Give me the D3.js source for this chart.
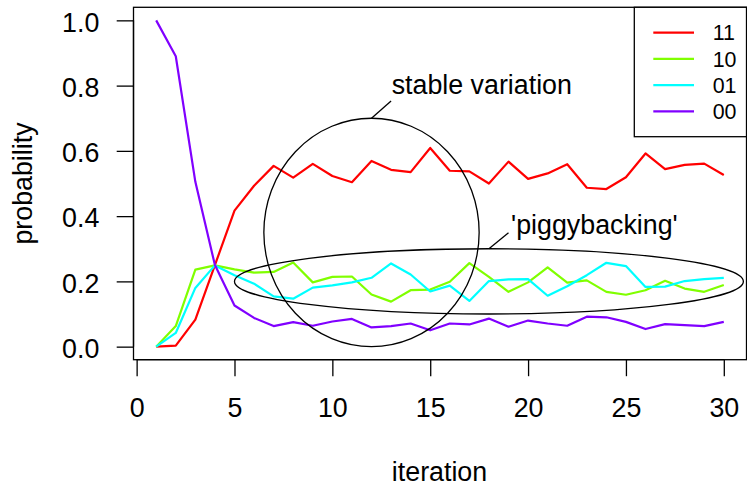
<!DOCTYPE html>
<html>
<head>
<meta charset="utf-8">
<script src="https://cdn.jsdelivr.net/npm/d3@7"></script>
<style>
  body { margin: 0; background: #fff; }
  svg text { font-family: "Liberation Sans", Arial, Helvetica, sans-serif; fill: #000; }
</style>
</head>
<body>
<svg id="chart" width="747" height="487"></svg>
<script>
// iterations 1..30
const iteration = [1, 2, 3, 4, 5, 6, 7, 8, 9, 10, 11, 12, 13, 14, 15,
                   16, 17, 18, 19, 20, 21, 22, 23, 24, 25, 26, 27, 28, 29, 30];

// probability of each state
const p11 = [0, 0.003, 0.083, 0.25, 0.417, 0.493, 0.554, 0.518, 0.560, 0.523, 0.504, 0.569, 0.542, 0.535, 0.609,
             0.539, 0.537, 0.500, 0.567, 0.514, 0.531, 0.559, 0.487, 0.483, 0.519, 0.592, 0.544, 0.557, 0.561, 0.526];
const p10 = [0, 0.063, 0.236, 0.249, 0.237, 0.227, 0.229, 0.258, 0.197, 0.214, 0.215, 0.160, 0.138, 0.173, 0.175,
             0.199, 0.256, 0.214, 0.168, 0.197, 0.243, 0.196, 0.203, 0.168, 0.159, 0.173, 0.202, 0.178, 0.168, 0.189];
const p01 = [0, 0.042, 0.180, 0.249, 0.219, 0.193, 0.154, 0.147, 0.181, 0.188, 0.197, 0.211, 0.255, 0.221, 0.169,
             0.187, 0.140, 0.201, 0.206, 0.207, 0.156, 0.185, 0.219, 0.257, 0.247, 0.183, 0.184, 0.201, 0.207, 0.211];
const p00 = [1.0, 0.890, 0.505, 0.25, 0.126, 0.088, 0.063, 0.075, 0.064, 0.077, 0.085, 0.059, 0.063, 0.071, 0.050,
             0.071, 0.068, 0.086, 0.061, 0.080, 0.071, 0.064, 0.092, 0.090, 0.076, 0.054, 0.069, 0.066, 0.063, 0.076];

const seriesNames = ['11', '10', '01', '00'];
const seriesColors = ['#FF0000', '#80FF00', '#00FFFF', '#8000FF'];

const xTicks = [0, 5, 10, 15, 20, 25, 30];
const yTicks = [0, 0.2, 0.4, 0.6, 0.8, 1.0];

// annotations: [cx, cy, rx, ry] in data units
const stableCircle = [12, 0.35, 5.5, 0.35];
const piggyEllipse = [18, 0.2, 13, 0.1];

const svg = d3.select('#chart');

// plot region (R style, 4% padding on each axis)
const plotLeft = 133.5, plotRight = 746.5, plotTop = 7.3, plotBottom = 359.7;

const x = d3.scaleLinear().domain([-0.16, 31.16]).range([plotLeft, plotRight]);
const y = d3.scaleLinear().domain([-0.04, 1.04]).range([plotBottom, plotTop]);

const fontSize = 26.8;

// box
svg.append('rect')
  .attr('x', plotLeft).attr('y', plotTop)
  .attr('width', plotRight - plotLeft).attr('height', plotBottom - plotTop)
  .attr('fill', 'none').attr('stroke', '#000').attr('stroke-width', 1.3);

// x axis
const xAxis = svg.append('g').attr('transform', `translate(0,${plotBottom})`)
  .call(d3.axisBottom(x).tickValues(xTicks).tickSize(16.5).tickPadding(22).tickFormat(d3.format('d')));
xAxis.select('.domain').attr('d', `M${x(0)},0H${x(30)}`).attr('stroke-width', 1.3);
xAxis.selectAll('.tick line').attr('stroke-width', 1.3);
xAxis.selectAll('.tick text').attr('font-size', fontSize).attr('font-family', null);

// y axis
const yAxis = svg.append('g').attr('transform', `translate(${plotLeft},0)`)
  .call(d3.axisLeft(y).tickValues(yTicks).tickSize(16.8).tickPadding(17.4).tickFormat(d3.format('.1f')));
yAxis.select('.domain').attr('d', `M0,${y(0)}V${y(1)}`).attr('stroke-width', 1.3);
yAxis.selectAll('.tick line').attr('stroke-width', 1.3);
yAxis.selectAll('.tick text').attr('font-size', fontSize).attr('font-family', null).attr('dy', '0.4em');

// axis titles
svg.append('text')
  .attr('x', (plotLeft + plotRight) / 2 - 0.5).attr('y', 481)
  .attr('text-anchor', 'middle').attr('font-size', fontSize)
  .text('iteration');

svg.append('text')
  .attr('transform', `translate(32,${(plotTop + plotBottom) / 2}) rotate(-90)`)
  .attr('text-anchor', 'middle').attr('font-size', fontSize)
  .text('probability');

// series lines
const allSeries = [p11, p10, p01, p00];
const line = d3.line()
  .x((d, i) => x(iteration[i]))
  .y(d => y(d));

allSeries.forEach((vals, k) => {
  svg.append('path')
    .datum(vals)
    .attr('d', line)
    .attr('fill', 'none')
    .attr('stroke', seriesColors[k])
    .attr('stroke-width', 2.2)
    .attr('stroke-linejoin', 'round');
});

// annotations
function drawEllipse(e) {
  svg.append('ellipse')
    .attr('cx', x(e[0])).attr('cy', y(e[1]))
    .attr('rx', x(e[0] + e[2]) - x(e[0]))
    .attr('ry', y(e[1]) - y(e[1] + e[3]))
    .attr('fill', 'none').attr('stroke', '#000').attr('stroke-width', 1.3);
}
drawEllipse(stableCircle);
drawEllipse(piggyEllipse);

svg.append('line')
  .attr('x1', x(12)).attr('y1', y(0.70))
  .attr('x2', x(13)).attr('y2', y(0.753))
  .attr('stroke', '#000').attr('stroke-width', 1.3);
svg.append('text')
  .attr('x', x(13.03)).attr('y', y(0.773))
  .attr('font-size', fontSize)
  .text('stable variation');

svg.append('line')
  .attr('x1', x(18)).attr('y1', y(0.30))
  .attr('x2', x(19)).attr('y2', y(0.349))
  .attr('stroke', '#000').attr('stroke-width', 1.3);
svg.append('text')
  .attr('x', x(19.13)).attr('y', y(0.346))
  .attr('font-size', fontSize)
  .text("'piggybacking'");

// legend (top right)
const legX = 634.3, legY = plotTop, legW = plotRight - legX, legH = 136.7 - plotTop;
const legend = svg.append('g');
legend.append('rect')
  .attr('x', legX).attr('y', legY).attr('width', legW).attr('height', legH)
  .attr('fill', '#fff').attr('stroke', '#000').attr('stroke-width', 1.3);

seriesNames.forEach((name, k) => {
  const ry = 32.7 + k * 26.2;
  legend.append('line')
    .attr('x1', 653.3).attr('x2', 694)
    .attr('y1', ry).attr('y2', ry)
    .attr('stroke', seriesColors[k]).attr('stroke-width', 2.2);
  legend.append('text')
    .attr('x', 712.7).attr('y', ry).attr('dy', '0.36em')
    .attr('font-size', 21.4)
    .text(name);
});
</script>
</body>
</html>
